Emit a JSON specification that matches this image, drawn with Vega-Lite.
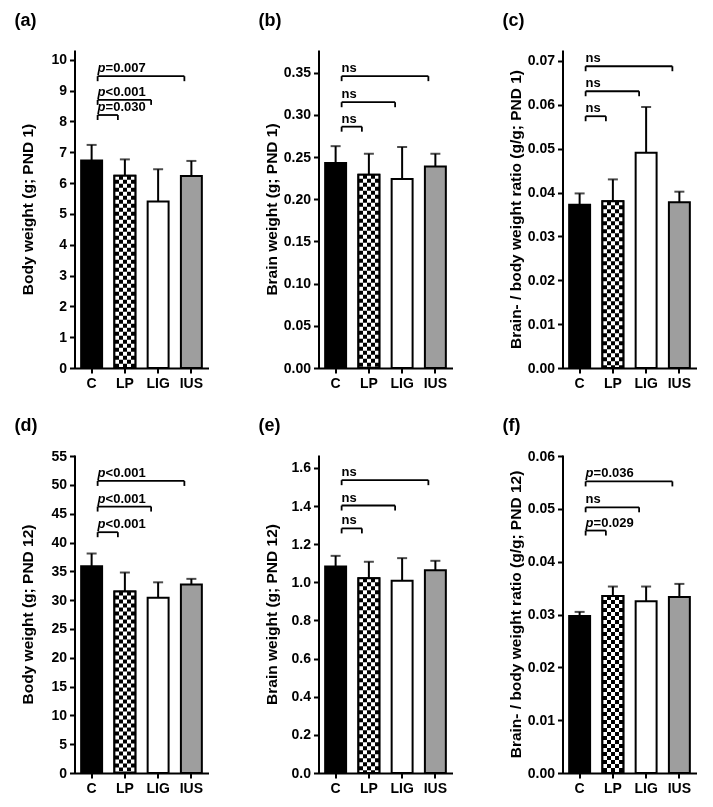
{
"$schema": "https://vega.github.io/schema/vega-lite/v6.json",
"background": "white",
"padding": {"left": 14.5, "top": 12, "right": 5, "bottom": 5},
"datasets": {
"bars": [
{"panel":"a","group":"C","mean":6.73,"err":7.24},
{"panel":"a","group":"LP","mean":6.24,"err":6.77},
{"panel":"a","group":"LIG","mean":5.40,"err":6.45},
{"panel":"a","group":"IUS","mean":6.23,"err":6.72},
{"panel":"b","group":"C","mean":0.243,"err":0.263},
{"panel":"b","group":"LP","mean":0.229,"err":0.254},
{"panel":"b","group":"LIG","mean":0.224,"err":0.262},
{"panel":"b","group":"IUS","mean":0.239,"err":0.254},
{"panel":"c","group":"C","mean":0.0372,"err":0.0398},
{"panel":"c","group":"LP","mean":0.0380,"err":0.0430},
{"panel":"c","group":"LIG","mean":0.0491,"err":0.0595},
{"panel":"c","group":"IUS","mean":0.0378,"err":0.0402},
{"panel":"d","group":"C","mean":35.9,"err":38.1},
{"panel":"d","group":"LP","mean":31.5,"err":34.8},
{"panel":"d","group":"LIG","mean":30.4,"err":33.1},
{"panel":"d","group":"IUS","mean":32.7,"err":33.7},
{"panel":"e","group":"C","mean":1.083,"err":1.139},
{"panel":"e","group":"LP","mean":1.021,"err":1.108},
{"panel":"e","group":"LIG","mean":1.009,"err":1.127},
{"panel":"e","group":"IUS","mean":1.064,"err":1.113},
{"panel":"f","group":"C","mean":0.0297,"err":0.0305},
{"panel":"f","group":"LP","mean":0.0335,"err":0.0353},
{"panel":"f","group":"LIG","mean":0.0325,"err":0.0353},
{"panel":"f","group":"IUS","mean":0.0333,"err":0.0358}
],
"brackets": [
{"panel":"a","from":"C","to":"LP","level":8.21,"sig":"p","label":"=0.030"},
{"panel":"a","from":"C","to":"LIG","level":8.70,"sig":"p","label":"<0.001"},
{"panel":"a","from":"C","to":"IUS","level":9.47,"sig":"p","label":"=0.007"},
{"panel":"b","from":"C","to":"LP","level":0.2861,"sig":"ns","label":"ns"},
{"panel":"b","from":"C","to":"LIG","level":0.3151,"sig":"ns","label":"ns"},
{"panel":"b","from":"C","to":"IUS","level":0.346,"sig":"ns","label":"ns"},
{"panel":"c","from":"C","to":"LP","level":0.0574,"sig":"ns","label":"ns"},
{"panel":"c","from":"C","to":"LIG","level":0.0631,"sig":"ns","label":"ns"},
{"panel":"c","from":"C","to":"IUS","level":0.0688,"sig":"ns","label":"ns"},
{"panel":"d","from":"C","to":"LP","level":41.8,"sig":"p","label":"<0.001"},
{"panel":"d","from":"C","to":"LIG","level":46.25,"sig":"p","label":"<0.001"},
{"panel":"d","from":"C","to":"IUS","level":50.7,"sig":"p","label":"<0.001"},
{"panel":"e","from":"C","to":"LP","level":1.283,"sig":"ns","label":"ns"},
{"panel":"e","from":"C","to":"LIG","level":1.403,"sig":"ns","label":"ns"},
{"panel":"e","from":"C","to":"IUS","level":1.536,"sig":"ns","label":"ns"},
{"panel":"f","from":"C","to":"LP","level":0.0459,"sig":"p","label":"=0.029"},
{"panel":"f","from":"C","to":"LIG","level":0.0503,"sig":"ns","label":"ns"},
{"panel":"f","from":"C","to":"IUS","level":0.0552,"sig":"p","label":"=0.036"}
]
},
"columns": 3,
"spacing": {"row": 27, "column": 50},
"resolve": {"scale": {"x": "independent", "y": "independent"}},
"concat": [
{"width":134,"height":318,"title":{"text":"(a)"},
"layer":[
{"data":{"name":"bars"},"transform":[{"filter":"datum.panel == 'a'"}],
"encoding":{"x":{"field":"group","type":"nominal","scale":{"domain":["C","LP","LIG","IUS"]},"title":null},
"y":{"field":"mean","type":"quantitative","scale":{"domain":[0,10.32],"nice":false},"axis":{"title":"Body weight (g; PND 1)","values":[0,1,2,3,4,5,6,7,8,9,10],"format":"d"}}},
"layer":[
{"mark":{"type":"bar","stroke":"#000","strokeWidth":2},"encoding":{"fill":{"field":"group","type":"nominal","scale":{"domain":["C","LP","LIG","IUS"],"range":["#000000","#000000","#ffffff","#9e9e9e"]},"legend":null}}},
{"transform":[{"filter":"datum.group == 'LP'"}],"mark":{"type":"bar","fill":{"gradient":"linear","x1":0,"y1":0,"x2":1,"y2":0,"stops":[{"offset":0,"color":"#000"},{"offset":0.2,"color":"#000"},{"offset":0.2,"color":"#fff"},{"offset":0.4,"color":"#fff"},{"offset":0.4,"color":"#000"},{"offset":0.6,"color":"#000"},{"offset":0.6,"color":"#fff"},{"offset":0.8,"color":"#fff"},{"offset":0.8,"color":"#000"},{"offset":1,"color":"#000"}]}}},
{"transform":[{"filter":"datum.group == 'LP'"}],"mark":{"type":"rule","color":"#fff","strokeWidth":21,"strokeDash":[4,4],"blend":"difference"},"encoding":{"y2":{"datum":0}}},
{"transform":[{"filter":"datum.group == 'LP'"}],"mark":{"type":"bar","fillOpacity":0,"stroke":"#000","strokeWidth":2}},
{"mark":{"type":"rule","color":"#000","strokeWidth":2},"encoding":{"y2":{"field":"err"}}},
{"mark":{"type":"tick","color":"#000","size":10,"thickness":2},"encoding":{"y":{"field":"err","type":"quantitative","axis":{"title":"Body weight (g; PND 1)","values":[0,1,2,3,4,5,6,7,8,9,10],"format":"d"}}}}
]},
{"data":{"name":"brackets"},"transform":[{"filter":"datum.panel == 'a'"}],
"encoding":{"x":{"field":"from","type":"nominal","scale":{"domain":["C","LP","LIG","IUS"]},"title":null},"y":{"field":"level","type":"quantitative","axis":{"title":"Body weight (g; PND 1)","values":[0,1,2,3,4,5,6,7,8,9,10],"format":"d"}}},
"layer":[
{"mark":{"type":"rule","color":"#000","strokeWidth":1.8,"xOffset":6,"x2Offset":-7},"encoding":{"x2":{"field":"to"}}},
{"mark":{"type":"rule","color":"#000","strokeWidth":1.8,"xOffset":6,"y2Offset":5},"encoding":{"y2":{"field":"level"}}},
{"mark":{"type":"rule","color":"#000","strokeWidth":1.8,"xOffset":-7,"y2Offset":5},"encoding":{"x":{"field":"to","type":"nominal","scale":{"domain":["C","LP","LIG","IUS"]},"title":null},"y2":{"field":"level"}}},
{"transform":[{"filter":"datum.sig == 'p'"}],"mark":{"type":"text","text":"p","fontStyle":"italic","dx":6}},
{"transform":[{"filter":"datum.sig == 'p'"}],"mark":{"type":"text","dx":14},"encoding":{"text":{"field":"label"}}},
{"transform":[{"filter":"datum.sig == 'ns'"}],"mark":{"type":"text","dx":6},"encoding":{"text":{"field":"label"}}}
]}
]},
{"width":134,"height":318,"title":{"text":"(b)"},
"layer":[
{"data":{"name":"bars"},"transform":[{"filter":"datum.panel == 'b'"}],
"encoding":{"x":{"field":"group","type":"nominal","scale":{"domain":["C","LP","LIG","IUS"]},"title":null},
"y":{"field":"mean","type":"quantitative","scale":{"domain":[0,0.377],"nice":false},"axis":{"title":"Brain weight (g; PND 1)","values":[0,0.05,0.1,0.15,0.2,0.25,0.3,0.35],"format":".2f"}}},
"layer":[
{"mark":{"type":"bar","stroke":"#000","strokeWidth":2},"encoding":{"fill":{"field":"group","type":"nominal","scale":{"domain":["C","LP","LIG","IUS"],"range":["#000000","#000000","#ffffff","#9e9e9e"]},"legend":null}}},
{"transform":[{"filter":"datum.group == 'LP'"}],"mark":{"type":"bar","fill":{"gradient":"linear","x1":0,"y1":0,"x2":1,"y2":0,"stops":[{"offset":0,"color":"#000"},{"offset":0.2,"color":"#000"},{"offset":0.2,"color":"#fff"},{"offset":0.4,"color":"#fff"},{"offset":0.4,"color":"#000"},{"offset":0.6,"color":"#000"},{"offset":0.6,"color":"#fff"},{"offset":0.8,"color":"#fff"},{"offset":0.8,"color":"#000"},{"offset":1,"color":"#000"}]}}},
{"transform":[{"filter":"datum.group == 'LP'"}],"mark":{"type":"rule","color":"#fff","strokeWidth":21,"strokeDash":[4,4],"blend":"difference"},"encoding":{"y2":{"datum":0}}},
{"transform":[{"filter":"datum.group == 'LP'"}],"mark":{"type":"bar","fillOpacity":0,"stroke":"#000","strokeWidth":2}},
{"mark":{"type":"rule","color":"#000","strokeWidth":2},"encoding":{"y2":{"field":"err"}}},
{"mark":{"type":"tick","color":"#000","size":10,"thickness":2},"encoding":{"y":{"field":"err","type":"quantitative","axis":{"title":"Brain weight (g; PND 1)","values":[0,0.05,0.1,0.15,0.2,0.25,0.3,0.35],"format":".2f"}}}}
]},
{"data":{"name":"brackets"},"transform":[{"filter":"datum.panel == 'b'"}],
"encoding":{"x":{"field":"from","type":"nominal","scale":{"domain":["C","LP","LIG","IUS"]},"title":null},"y":{"field":"level","type":"quantitative","axis":{"title":"Brain weight (g; PND 1)","values":[0,0.05,0.1,0.15,0.2,0.25,0.3,0.35],"format":".2f"}}},
"layer":[
{"mark":{"type":"rule","color":"#000","strokeWidth":1.8,"xOffset":6,"x2Offset":-7},"encoding":{"x2":{"field":"to"}}},
{"mark":{"type":"rule","color":"#000","strokeWidth":1.8,"xOffset":6,"y2Offset":5},"encoding":{"y2":{"field":"level"}}},
{"mark":{"type":"rule","color":"#000","strokeWidth":1.8,"xOffset":-7,"y2Offset":5},"encoding":{"x":{"field":"to","type":"nominal","scale":{"domain":["C","LP","LIG","IUS"]},"title":null},"y2":{"field":"level"}}},
{"transform":[{"filter":"datum.sig == 'p'"}],"mark":{"type":"text","text":"p","fontStyle":"italic","dx":6}},
{"transform":[{"filter":"datum.sig == 'p'"}],"mark":{"type":"text","dx":14},"encoding":{"text":{"field":"label"}}},
{"transform":[{"filter":"datum.sig == 'ns'"}],"mark":{"type":"text","dx":6},"encoding":{"text":{"field":"label"}}}
]}
]},
{"width":134,"height":318,"title":{"text":"(c)"},
"layer":[
{"data":{"name":"bars"},"transform":[{"filter":"datum.panel == 'c'"}],
"encoding":{"x":{"field":"group","type":"nominal","scale":{"domain":["C","LP","LIG","IUS"]},"title":null},
"y":{"field":"mean","type":"quantitative","scale":{"domain":[0,0.0725],"nice":false},"axis":{"title":"Brain- / body weight ratio (g/g; PND 1)","values":[0,0.01,0.02,0.03,0.04,0.05,0.06,0.07],"format":".2f"}}},
"layer":[
{"mark":{"type":"bar","stroke":"#000","strokeWidth":2},"encoding":{"fill":{"field":"group","type":"nominal","scale":{"domain":["C","LP","LIG","IUS"],"range":["#000000","#000000","#ffffff","#9e9e9e"]},"legend":null}}},
{"transform":[{"filter":"datum.group == 'LP'"}],"mark":{"type":"bar","fill":{"gradient":"linear","x1":0,"y1":0,"x2":1,"y2":0,"stops":[{"offset":0,"color":"#000"},{"offset":0.2,"color":"#000"},{"offset":0.2,"color":"#fff"},{"offset":0.4,"color":"#fff"},{"offset":0.4,"color":"#000"},{"offset":0.6,"color":"#000"},{"offset":0.6,"color":"#fff"},{"offset":0.8,"color":"#fff"},{"offset":0.8,"color":"#000"},{"offset":1,"color":"#000"}]}}},
{"transform":[{"filter":"datum.group == 'LP'"}],"mark":{"type":"rule","color":"#fff","strokeWidth":21,"strokeDash":[4,4],"blend":"difference"},"encoding":{"y2":{"datum":0}}},
{"transform":[{"filter":"datum.group == 'LP'"}],"mark":{"type":"bar","fillOpacity":0,"stroke":"#000","strokeWidth":2}},
{"mark":{"type":"rule","color":"#000","strokeWidth":2},"encoding":{"y2":{"field":"err"}}},
{"mark":{"type":"tick","color":"#000","size":10,"thickness":2},"encoding":{"y":{"field":"err","type":"quantitative","axis":{"title":"Brain- / body weight ratio (g/g; PND 1)","values":[0,0.01,0.02,0.03,0.04,0.05,0.06,0.07],"format":".2f"}}}}
]},
{"data":{"name":"brackets"},"transform":[{"filter":"datum.panel == 'c'"}],
"encoding":{"x":{"field":"from","type":"nominal","scale":{"domain":["C","LP","LIG","IUS"]},"title":null},"y":{"field":"level","type":"quantitative","axis":{"title":"Brain- / body weight ratio (g/g; PND 1)","values":[0,0.01,0.02,0.03,0.04,0.05,0.06,0.07],"format":".2f"}}},
"layer":[
{"mark":{"type":"rule","color":"#000","strokeWidth":1.8,"xOffset":6,"x2Offset":-7},"encoding":{"x2":{"field":"to"}}},
{"mark":{"type":"rule","color":"#000","strokeWidth":1.8,"xOffset":6,"y2Offset":5},"encoding":{"y2":{"field":"level"}}},
{"mark":{"type":"rule","color":"#000","strokeWidth":1.8,"xOffset":-7,"y2Offset":5},"encoding":{"x":{"field":"to","type":"nominal","scale":{"domain":["C","LP","LIG","IUS"]},"title":null},"y2":{"field":"level"}}},
{"transform":[{"filter":"datum.sig == 'p'"}],"mark":{"type":"text","text":"p","fontStyle":"italic","dx":6}},
{"transform":[{"filter":"datum.sig == 'p'"}],"mark":{"type":"text","dx":14},"encoding":{"text":{"field":"label"}}},
{"transform":[{"filter":"datum.sig == 'ns'"}],"mark":{"type":"text","dx":6},"encoding":{"text":{"field":"label"}}}
]}
]},
{"width":134,"height":318,"title":{"text":"(d)","offset":14},
"layer":[
{"data":{"name":"bars"},"transform":[{"filter":"datum.panel == 'd'"}],
"encoding":{"x":{"field":"group","type":"nominal","scale":{"domain":["C","LP","LIG","IUS"]},"title":null},
"y":{"field":"mean","type":"quantitative","scale":{"domain":[0,55.2],"nice":false},"axis":{"title":"Body weight (g; PND 12)","values":[0,5,10,15,20,25,30,35,40,45,50,55],"format":"d"}}},
"layer":[
{"mark":{"type":"bar","stroke":"#000","strokeWidth":2},"encoding":{"fill":{"field":"group","type":"nominal","scale":{"domain":["C","LP","LIG","IUS"],"range":["#000000","#000000","#ffffff","#9e9e9e"]},"legend":null}}},
{"transform":[{"filter":"datum.group == 'LP'"}],"mark":{"type":"bar","fill":{"gradient":"linear","x1":0,"y1":0,"x2":1,"y2":0,"stops":[{"offset":0,"color":"#000"},{"offset":0.2,"color":"#000"},{"offset":0.2,"color":"#fff"},{"offset":0.4,"color":"#fff"},{"offset":0.4,"color":"#000"},{"offset":0.6,"color":"#000"},{"offset":0.6,"color":"#fff"},{"offset":0.8,"color":"#fff"},{"offset":0.8,"color":"#000"},{"offset":1,"color":"#000"}]}}},
{"transform":[{"filter":"datum.group == 'LP'"}],"mark":{"type":"rule","color":"#fff","strokeWidth":21,"strokeDash":[4,4],"blend":"difference"},"encoding":{"y2":{"datum":0}}},
{"transform":[{"filter":"datum.group == 'LP'"}],"mark":{"type":"bar","fillOpacity":0,"stroke":"#000","strokeWidth":2}},
{"mark":{"type":"rule","color":"#000","strokeWidth":2},"encoding":{"y2":{"field":"err"}}},
{"mark":{"type":"tick","color":"#000","size":10,"thickness":2},"encoding":{"y":{"field":"err","type":"quantitative","axis":{"title":"Body weight (g; PND 12)","values":[0,5,10,15,20,25,30,35,40,45,50,55],"format":"d"}}}}
]},
{"data":{"name":"brackets"},"transform":[{"filter":"datum.panel == 'd'"}],
"encoding":{"x":{"field":"from","type":"nominal","scale":{"domain":["C","LP","LIG","IUS"]},"title":null},"y":{"field":"level","type":"quantitative","axis":{"title":"Body weight (g; PND 12)","values":[0,5,10,15,20,25,30,35,40,45,50,55],"format":"d"}}},
"layer":[
{"mark":{"type":"rule","color":"#000","strokeWidth":1.8,"xOffset":6,"x2Offset":-7},"encoding":{"x2":{"field":"to"}}},
{"mark":{"type":"rule","color":"#000","strokeWidth":1.8,"xOffset":6,"y2Offset":5},"encoding":{"y2":{"field":"level"}}},
{"mark":{"type":"rule","color":"#000","strokeWidth":1.8,"xOffset":-7,"y2Offset":5},"encoding":{"x":{"field":"to","type":"nominal","scale":{"domain":["C","LP","LIG","IUS"]},"title":null},"y2":{"field":"level"}}},
{"transform":[{"filter":"datum.sig == 'p'"}],"mark":{"type":"text","text":"p","fontStyle":"italic","dx":6}},
{"transform":[{"filter":"datum.sig == 'p'"}],"mark":{"type":"text","dx":14},"encoding":{"text":{"field":"label"}}},
{"transform":[{"filter":"datum.sig == 'ns'"}],"mark":{"type":"text","dx":6},"encoding":{"text":{"field":"label"}}}
]}
]},
{"width":134,"height":318,"title":{"text":"(e)"},
"layer":[
{"data":{"name":"bars"},"transform":[{"filter":"datum.panel == 'e'"}],
"encoding":{"x":{"field":"group","type":"nominal","scale":{"domain":["C","LP","LIG","IUS"]},"title":null},
"y":{"field":"mean","type":"quantitative","scale":{"domain":[0,1.668],"nice":false},"axis":{"title":"Brain weight (g; PND 12)","values":[0,0.2,0.4,0.6,0.8,1,1.2,1.4,1.6],"format":".1f"}}},
"layer":[
{"mark":{"type":"bar","stroke":"#000","strokeWidth":2},"encoding":{"fill":{"field":"group","type":"nominal","scale":{"domain":["C","LP","LIG","IUS"],"range":["#000000","#000000","#ffffff","#9e9e9e"]},"legend":null}}},
{"transform":[{"filter":"datum.group == 'LP'"}],"mark":{"type":"bar","fill":{"gradient":"linear","x1":0,"y1":0,"x2":1,"y2":0,"stops":[{"offset":0,"color":"#000"},{"offset":0.2,"color":"#000"},{"offset":0.2,"color":"#fff"},{"offset":0.4,"color":"#fff"},{"offset":0.4,"color":"#000"},{"offset":0.6,"color":"#000"},{"offset":0.6,"color":"#fff"},{"offset":0.8,"color":"#fff"},{"offset":0.8,"color":"#000"},{"offset":1,"color":"#000"}]}}},
{"transform":[{"filter":"datum.group == 'LP'"}],"mark":{"type":"rule","color":"#fff","strokeWidth":21,"strokeDash":[4,4],"blend":"difference"},"encoding":{"y2":{"datum":0}}},
{"transform":[{"filter":"datum.group == 'LP'"}],"mark":{"type":"bar","fillOpacity":0,"stroke":"#000","strokeWidth":2}},
{"mark":{"type":"rule","color":"#000","strokeWidth":2},"encoding":{"y2":{"field":"err"}}},
{"mark":{"type":"tick","color":"#000","size":10,"thickness":2},"encoding":{"y":{"field":"err","type":"quantitative","axis":{"title":"Brain weight (g; PND 12)","values":[0,0.2,0.4,0.6,0.8,1,1.2,1.4,1.6],"format":".1f"}}}}
]},
{"data":{"name":"brackets"},"transform":[{"filter":"datum.panel == 'e'"}],
"encoding":{"x":{"field":"from","type":"nominal","scale":{"domain":["C","LP","LIG","IUS"]},"title":null},"y":{"field":"level","type":"quantitative","axis":{"title":"Brain weight (g; PND 12)","values":[0,0.2,0.4,0.6,0.8,1,1.2,1.4,1.6],"format":".1f"}}},
"layer":[
{"mark":{"type":"rule","color":"#000","strokeWidth":1.8,"xOffset":6,"x2Offset":-7},"encoding":{"x2":{"field":"to"}}},
{"mark":{"type":"rule","color":"#000","strokeWidth":1.8,"xOffset":6,"y2Offset":5},"encoding":{"y2":{"field":"level"}}},
{"mark":{"type":"rule","color":"#000","strokeWidth":1.8,"xOffset":-7,"y2Offset":5},"encoding":{"x":{"field":"to","type":"nominal","scale":{"domain":["C","LP","LIG","IUS"]},"title":null},"y2":{"field":"level"}}},
{"transform":[{"filter":"datum.sig == 'p'"}],"mark":{"type":"text","text":"p","fontStyle":"italic","dx":6}},
{"transform":[{"filter":"datum.sig == 'p'"}],"mark":{"type":"text","dx":14},"encoding":{"text":{"field":"label"}}},
{"transform":[{"filter":"datum.sig == 'ns'"}],"mark":{"type":"text","dx":6},"encoding":{"text":{"field":"label"}}}
]}
]},
{"width":134,"height":318,"title":{"text":"(f)","offset":14},
"layer":[
{"data":{"name":"bars"},"transform":[{"filter":"datum.panel == 'f'"}],
"encoding":{"x":{"field":"group","type":"nominal","scale":{"domain":["C","LP","LIG","IUS"]},"title":null},
"y":{"field":"mean","type":"quantitative","scale":{"domain":[0,0.0602],"nice":false},"axis":{"title":"Brain- / body weight ratio (g/g; PND 12)","values":[0,0.01,0.02,0.03,0.04,0.05,0.06],"format":".2f"}}},
"layer":[
{"mark":{"type":"bar","stroke":"#000","strokeWidth":2},"encoding":{"fill":{"field":"group","type":"nominal","scale":{"domain":["C","LP","LIG","IUS"],"range":["#000000","#000000","#ffffff","#9e9e9e"]},"legend":null}}},
{"transform":[{"filter":"datum.group == 'LP'"}],"mark":{"type":"bar","fill":{"gradient":"linear","x1":0,"y1":0,"x2":1,"y2":0,"stops":[{"offset":0,"color":"#000"},{"offset":0.2,"color":"#000"},{"offset":0.2,"color":"#fff"},{"offset":0.4,"color":"#fff"},{"offset":0.4,"color":"#000"},{"offset":0.6,"color":"#000"},{"offset":0.6,"color":"#fff"},{"offset":0.8,"color":"#fff"},{"offset":0.8,"color":"#000"},{"offset":1,"color":"#000"}]}}},
{"transform":[{"filter":"datum.group == 'LP'"}],"mark":{"type":"rule","color":"#fff","strokeWidth":21,"strokeDash":[4,4],"blend":"difference"},"encoding":{"y2":{"datum":0}}},
{"transform":[{"filter":"datum.group == 'LP'"}],"mark":{"type":"bar","fillOpacity":0,"stroke":"#000","strokeWidth":2}},
{"mark":{"type":"rule","color":"#000","strokeWidth":2},"encoding":{"y2":{"field":"err"}}},
{"mark":{"type":"tick","color":"#000","size":10,"thickness":2},"encoding":{"y":{"field":"err","type":"quantitative","axis":{"title":"Brain- / body weight ratio (g/g; PND 12)","values":[0,0.01,0.02,0.03,0.04,0.05,0.06],"format":".2f"}}}}
]},
{"data":{"name":"brackets"},"transform":[{"filter":"datum.panel == 'f'"}],
"encoding":{"x":{"field":"from","type":"nominal","scale":{"domain":["C","LP","LIG","IUS"]},"title":null},"y":{"field":"level","type":"quantitative","axis":{"title":"Brain- / body weight ratio (g/g; PND 12)","values":[0,0.01,0.02,0.03,0.04,0.05,0.06],"format":".2f"}}},
"layer":[
{"mark":{"type":"rule","color":"#000","strokeWidth":1.8,"xOffset":6,"x2Offset":-7},"encoding":{"x2":{"field":"to"}}},
{"mark":{"type":"rule","color":"#000","strokeWidth":1.8,"xOffset":6,"y2Offset":5},"encoding":{"y2":{"field":"level"}}},
{"mark":{"type":"rule","color":"#000","strokeWidth":1.8,"xOffset":-7,"y2Offset":5},"encoding":{"x":{"field":"to","type":"nominal","scale":{"domain":["C","LP","LIG","IUS"]},"title":null},"y2":{"field":"level"}}},
{"transform":[{"filter":"datum.sig == 'p'"}],"mark":{"type":"text","text":"p","fontStyle":"italic","dx":6}},
{"transform":[{"filter":"datum.sig == 'p'"}],"mark":{"type":"text","dx":14},"encoding":{"text":{"field":"label"}}},
{"transform":[{"filter":"datum.sig == 'ns'"}],"mark":{"type":"text","dx":6},"encoding":{"text":{"field":"label"}}}
]}
]}
],
"config": {
"font": "Liberation Sans",
"view": {"stroke": null},
"scale": {"bandPaddingInner": 0.37, "bandPaddingOuter": 0.2},
"title": {"anchor": "start", "frame": "bounds", "fontSize": 18, "fontWeight": "bold", "font": "Liberation Sans", "offset": 20, "dx": -6, "color": "#000"},
"axis": {"domainColor": "#000", "domainWidth": 2, "tickColor": "#000", "tickWidth": 2, "tickSize": 5, "labelFont": "Liberation Sans", "labelFontSize": 14, "labelFontWeight": "bold", "labelColor": "#000", "labelPadding": 3, "titleFont": "Liberation Sans", "titleFontSize": 15.5, "titleFontWeight": "bold", "titleColor": "#000", "grid": false, "labelOverlap": false},
"axisX": {"labelAngle": 0, "labelFlush": false},
"axisY": {"minExtent": 35, "maxExtent": 35, "titlePadding": 4, "labelFlush": false},
"text": {"font": "Liberation Sans", "fontSize": 13, "fontWeight": "bold", "align": "left", "baseline": "alphabetic", "dy": -4, "color": "#000"}
}
}
